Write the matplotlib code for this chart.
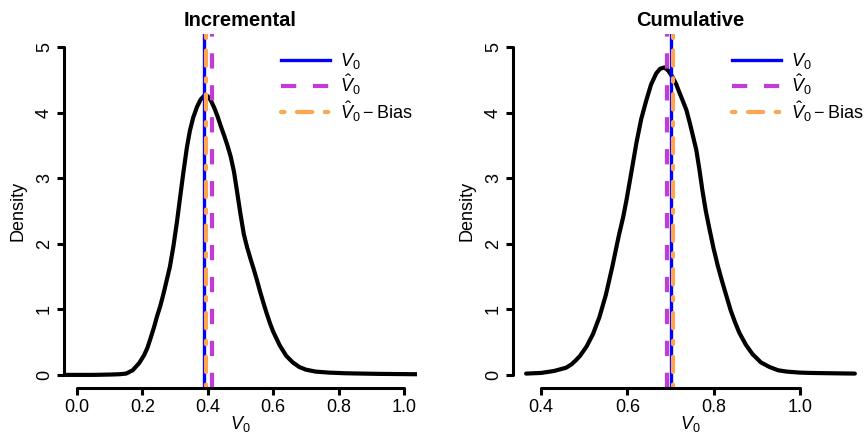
import matplotlib
matplotlib.use("Agg")
import matplotlib.pyplot as plt
import numpy as np

plt.rcParams['font.family'] = ['Liberation Sans', 'DejaVu Sans']
plt.rcParams['mathtext.fontset'] = 'custom'
plt.rcParams['mathtext.rm'] = 'Liberation Sans'
plt.rcParams['mathtext.it'] = 'Liberation Sans:italic'
plt.rcParams['lines.scale_dashes'] = False

# Densidad "Incremental"
inc_x = [-0.04, 0.05, 0.10, 0.13, 0.15, 0.17, 0.19, 0.205, 0.215, 0.223, 0.235,
         0.245, 0.254, 0.265, 0.275, 0.284, 0.295, 0.306, 0.315, 0.325, 0.336,
         0.345, 0.355, 0.367, 0.378, 0.391, 0.40, 0.41, 0.42, 0.43, 0.44, 0.45,
         0.46, 0.47, 0.48, 0.49, 0.50, 0.51, 0.52, 0.53, 0.54, 0.55, 0.56, 0.57,
         0.58, 0.59, 0.60, 0.62, 0.64, 0.66, 0.68, 0.70, 0.73, 0.77, 0.82, 0.87,
         0.93, 1.04]
inc_y = [0.0, 0.0, 0.005, 0.01, 0.02, 0.07, 0.18, 0.30, 0.41, 0.53, 0.72,
         0.90, 1.04, 1.25, 1.46, 1.65, 1.97, 2.35, 2.70, 3.08, 3.47,
         3.72, 3.92, 4.09, 4.20, 4.27, 4.25, 4.18, 4.07, 3.94, 3.79, 3.65,
         3.50, 3.33, 3.10, 2.78, 2.45, 2.15, 1.95, 1.78, 1.62, 1.45, 1.27, 1.10,
         0.94, 0.79, 0.66, 0.45, 0.29, 0.19, 0.12, 0.08, 0.05, 0.035, 0.025, 0.02,
         0.015, 0.01]

# Densidad "Cumulative"
cum_x = [0.365, 0.40, 0.43, 0.458, 0.47, 0.48, 0.49, 0.505, 0.52, 0.535, 0.55,
         0.565, 0.58, 0.59, 0.598, 0.61, 0.621, 0.632, 0.644, 0.655, 0.667, 0.676,
         0.686, 0.695, 0.705, 0.713, 0.72, 0.728, 0.737, 0.745, 0.752, 0.76, 0.767,
         0.774, 0.782, 0.791, 0.80, 0.81, 0.821, 0.83, 0.84, 0.85, 0.86, 0.875,
         0.89, 0.91, 0.93, 0.95, 0.97, 1.0, 1.023, 1.07, 1.128]
cum_y = [0.02, 0.03, 0.06, 0.11, 0.16, 0.22, 0.29, 0.43, 0.62, 0.88, 1.22,
         1.65, 2.12, 2.40, 2.67, 3.12, 3.54, 3.90, 4.19, 4.43, 4.60, 4.67,
         4.69, 4.64, 4.54, 4.44, 4.32, 4.19, 4.04, 3.84, 3.65, 3.43, 3.14,
         2.82, 2.50, 2.21, 1.93, 1.66, 1.40, 1.20, 0.98, 0.80, 0.64, 0.46,
         0.32, 0.19, 0.12, 0.07, 0.05, 0.035, 0.03, 0.025, 0.02]

titles = ["Incremental", "Cumulative"]
v0_true = [0.388, 0.702]
v0_hat = [0.413, 0.691]
v0_bias = [0.395, 0.705]
xticks = [[0.0, 0.2, 0.4, 0.6, 0.8, 1.0], [0.4, 0.6, 0.8, 1.0]]
yticks = [0, 1, 2, 3, 4, 5]

W, H = 864, 434
fig = plt.figure(figsize=(W / 100, H / 100), dpi=100)

# posiciones en pixeles: (izq, der, abajo, arriba)
boxes = [(64, 417, 388, 34), (513, 868, 388, 34)]
xlims = [(-0.04, 1.04), (0.3345, 1.1585)]
curves = [(inc_x, inc_y), (cum_x, cum_y)]

for k in range(2):
    l, r, b, t = boxes[k]
    ax = fig.add_axes([l / W, (H - b) / H, (r - l) / W, (b - t) / H])
    ax.plot(curves[k][0], curves[k][1], color='black', lw=3.0,
            solid_capstyle='round', solid_joinstyle='round')
    ax.axvline(v0_true[k], color='#0000FF', lw=2.4, label='$V_0$')
    ax.axvline(v0_hat[k], color='#C23BD4', lw=3.0, dashes=(11, 12),
               label=r'$\hat{V}_0$')
    ax.axvline(v0_bias[k], color='#FFA54F', lw=3.0, dashes=(2.5, 9, 11, 9),
               dash_capstyle='round', label=r'$\hat{V}_0 - \mathrm{Bias}$')
    ax.set_xlim(xlims[k])
    ax.set_ylim(-0.2, 5.2)
    for s in ['top', 'right']:
        ax.spines[s].set_visible(False)
    ax.spines['left'].set_bounds(0, 5)
    ax.spines['bottom'].set_bounds(xticks[k][0], xticks[k][-1])
    for s in ['left', 'bottom']:
        ax.spines[s].set_linewidth(2.2)
        ax.spines[s].set_capstyle('round')
    ax.set_xticks(xticks[k])
    ax.set_xticklabels(["%.1f" % v for v in xticks[k]])
    ax.set_yticks(yticks)
    ax.tick_params(length=5, width=2.2, labelsize=13, pad=3)
    for lab in ax.get_yticklabels():
        lab.set_rotation(90)
        lab.set_va('center')
    ax.set_title(titles[k], fontsize=14.5, fontweight='bold', pad=6)
    ax.set_xlabel('$V_0$', fontsize=13, labelpad=-1.5)
    ax.set_ylabel('Density', fontsize=13, labelpad=7)
    ax.legend(loc='upper right', bbox_to_anchor=(1.035, 1.0), frameon=False,
              fontsize=13, handlelength=2.7, handletextpad=0.55,
              labelspacing=0.08, borderaxespad=0.55)

fig.savefig("out.png", dpi=100)
